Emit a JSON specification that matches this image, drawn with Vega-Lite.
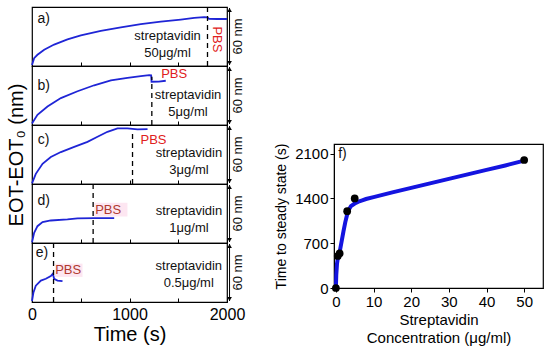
{
  "$schema": "https://vega.github.io/schema/vega-lite/v6.json",
  "background": "white",
  "padding": {"left": 5, "top": 5, "right": 5, "bottom": 5},
  "config": {
    "font": "Liberation Sans",
    "view": {"stroke": "black", "strokeWidth": 1.2},
    "axis": {"labelColor": "#000", "titleColor": "#000", "tickColor": "#000", "domainColor": "#000", "grid": false, "titleFontWeight": "normal", "labelFlush": false, "labelOverlap": false},
    "text": {"color": "#111", "font": "Liberation Sans"}
  },
  "datasets": {
    "traces": [
      {"panel": "a", "t": 0, "nm": 1}, {"panel": "a", "t": 22, "nm": 8}, {"panel": "a", "t": 56, "nm": 11.4}, {"panel": "a", "t": 125, "nm": 16.6}, {"panel": "a", "t": 227, "nm": 21.8}, {"panel": "a", "t": 364, "nm": 27}, {"panel": "a", "t": 501, "nm": 31.2}, {"panel": "a", "t": 706, "nm": 35.8}, {"panel": "a", "t": 911, "nm": 39.2}, {"panel": "a", "t": 1116, "nm": 42.6}, {"panel": "a", "t": 1321, "nm": 45.1}, {"panel": "a", "t": 1526, "nm": 47.2}, {"panel": "a", "t": 1664, "nm": 48.9}, {"panel": "a", "t": 1766, "nm": 49.6}, {"panel": "a", "t": 1800, "nm": 49.5}, {"panel": "a", "t": 1815, "nm": 47.9}, {"panel": "a", "t": 1900, "nm": 47.8}, {"panel": "a", "t": 2000, "nm": 47.8},
      {"panel": "b", "t": 0, "nm": 1.6}, {"panel": "b", "t": 56, "nm": 10.3}, {"panel": "b", "t": 159, "nm": 18.8}, {"panel": "b", "t": 296, "nm": 27.4}, {"panel": "b", "t": 467, "nm": 34.3}, {"panel": "b", "t": 638, "nm": 40.4}, {"panel": "b", "t": 809, "nm": 45.3}, {"panel": "b", "t": 979, "nm": 48}, {"panel": "b", "t": 1116, "nm": 49.7}, {"panel": "b", "t": 1202, "nm": 50.7}, {"panel": "b", "t": 1222, "nm": 50.6}, {"panel": "b", "t": 1226, "nm": 44}, {"panel": "b", "t": 1300, "nm": 44.2}, {"panel": "b", "t": 1372, "nm": 45},
      {"panel": "c", "t": 0, "nm": 0.6}, {"panel": "c", "t": 39, "nm": 10.3}, {"panel": "c", "t": 108, "nm": 20.6}, {"panel": "c", "t": 193, "nm": 27.4}, {"panel": "c", "t": 296, "nm": 32.5}, {"panel": "c", "t": 433, "nm": 37.7}, {"panel": "c", "t": 569, "nm": 42.8}, {"panel": "c", "t": 672, "nm": 48}, {"panel": "c", "t": 774, "nm": 53.1}, {"panel": "c", "t": 877, "nm": 56.6}, {"panel": "c", "t": 979, "nm": 56.6}, {"panel": "c", "t": 1082, "nm": 55.6}, {"panel": "c", "t": 1185, "nm": 55.9},
      {"panel": "d", "t": 0, "nm": 0.6}, {"panel": "d", "t": 22, "nm": 10.3}, {"panel": "d", "t": 56, "nm": 17.1}, {"panel": "d", "t": 108, "nm": 21.2}, {"panel": "d", "t": 193, "nm": 22.9}, {"panel": "d", "t": 364, "nm": 24}, {"panel": "d", "t": 467, "nm": 25}, {"panel": "d", "t": 638, "nm": 25.3}, {"panel": "d", "t": 843, "nm": 25.3},
      {"panel": "e", "t": 0, "nm": 1}, {"panel": "e", "t": 15, "nm": 9.7}, {"panel": "e", "t": 39, "nm": 16.6}, {"panel": "e", "t": 91, "nm": 21.8}, {"panel": "e", "t": 142, "nm": 23.6}, {"panel": "e", "t": 193, "nm": 26.4}, {"panel": "e", "t": 214, "nm": 28.8}, {"panel": "e", "t": 227, "nm": 23.6}, {"panel": "e", "t": 262, "nm": 21.8}, {"panel": "e", "t": 313, "nm": 21.2}
    ],
    "fit": [
      {"c": 0, "time": 0}, {"c": 0.1, "time": 200}, {"c": 0.3, "time": 380}, {"c": 0.5, "time": 460}, {"c": 1, "time": 560}, {"c": 1.5, "time": 720}, {"c": 2, "time": 880}, {"c": 2.5, "time": 1030}, {"c": 3, "time": 1150}, {"c": 3.5, "time": 1230}, {"c": 4, "time": 1280}, {"c": 5, "time": 1320}, {"c": 6, "time": 1350}, {"c": 7, "time": 1370}, {"c": 8, "time": 1390}, {"c": 10, "time": 1420}, {"c": 15, "time": 1495}, {"c": 20, "time": 1565}, {"c": 25, "time": 1635}, {"c": 30, "time": 1705}, {"c": 35, "time": 1775}, {"c": 40, "time": 1845}, {"c": 45, "time": 1915}, {"c": 50, "time": 1990}
    ],
    "pts": [
      {"c": 0, "time": 0}, {"c": 0.5, "time": 500}, {"c": 1, "time": 540}, {"c": 3, "time": 1200}, {"c": 5, "time": 1400}, {"c": 50, "time": 2000}
    ]
  },
  "bounds": "flush",
  "spacing": 302,
  "hconcat": [
    {
      "bounds": "flush",
      "spacing": 0,
      "vconcat": [
        {
          "width": 195, "height": 59,
          "layer": [
            {"data": {"name": "traces"}, "transform": [{"filter": "datum.panel == 'a'"}], "mark": {"type": "line", "color": "#1f25d6", "strokeWidth": 1.8},
             "encoding": {"x": {"field": "t", "type": "quantitative", "scale": {"domain": [0, 2000], "nice": false}, "axis": {"values": [0, 500, 1000, 1500, 2000], "labels": false, "tickSize": -4, "domain": false, "title": null}},
                          "y": {"field": "nm", "type": "quantitative", "scale": {"domain": [0, 60], "nice": false}, "axis": null}}},
            {"data": {"values": [{}]}, "mark": {"type": "rule", "strokeDash": [5, 4], "color": "black", "strokeWidth": 1.3}, "encoding": {"x": {"datum": 1800}, "y": {"datum": 0, "axis": null}, "y2": {"datum": 60}}},
            {"data": {"values": [{}]}, "mark": {"type": "text", "fontSize": 14, "align": "left", "baseline": "middle"}, "encoding": {"x": {"datum": 56}, "y": {"datum": 47.8, "axis": null}, "text": {"value": "a)"}}},
            {"data": {"values": [{}]}, "mark": {"type": "text", "fontSize": 13, "lineHeight": 17, "align": "center", "baseline": "middle"}, "encoding": {"x": {"datum": 1390}, "y": {"datum": 30.6, "axis": null}, "text": {"value": ["streptavidin", "50μg/ml"]}}},
            {"data": {"values": [{}]}, "mark": {"type": "text", "fontSize": 13, "align": "center", "baseline": "middle", "angle": 90, "color": "#e02020"}, "encoding": {"x": {"datum": 1902}, "y": {"datum": 27, "axis": null}, "text": {"value": "PBS"}}},
            {"data": {"values": [{}]}, "mark": {"type": "text", "fontSize": 13, "align": "center", "baseline": "middle", "angle": 270}, "encoding": {"x": {"datum": 2110}, "y": {"datum": 30, "axis": null}, "text": {"value": "60 nm"}}},
            {"data": {"values": [{}]}, "mark": {"type": "rule", "color": "black", "strokeWidth": 1}, "encoding": {"x": {"datum": 2026}, "y": {"datum": 1, "axis": null}, "y2": {"datum": 59}}},
            {"data": {"values": [{}]}, "mark": {"type": "point", "shape": "triangle-up", "filled": true, "color": "black", "size": 22, "opacity": 1}, "encoding": {"x": {"datum": 2026}, "y": {"datum": 57, "axis": null}}},
            {"data": {"values": [{}]}, "mark": {"type": "point", "shape": "triangle-down", "filled": true, "color": "black", "size": 22, "opacity": 1}, "encoding": {"x": {"datum": 2026}, "y": {"datum": 3, "axis": null}}}
          ]
        },
        {
          "width": 195, "height": 59,
          "layer": [
            {"data": {"name": "traces"}, "transform": [{"filter": "datum.panel == 'b'"}], "mark": {"type": "line", "color": "#1f25d6", "strokeWidth": 1.8},
             "encoding": {"x": {"field": "t", "type": "quantitative", "scale": {"domain": [0, 2000], "nice": false}, "axis": {"values": [0, 500, 1000, 1500, 2000], "labels": false, "tickSize": -4, "domain": false, "title": null}},
                          "y": {"field": "nm", "type": "quantitative", "scale": {"domain": [0, 60], "nice": false}, "axis": null}}},
            {"data": {"values": [{}]}, "mark": {"type": "rule", "strokeDash": [5, 4], "color": "black", "strokeWidth": 1.3}, "encoding": {"x": {"datum": 1229}, "y": {"datum": 0, "axis": null}, "y2": {"datum": 49}}},
            {"data": {"values": [{}]}, "mark": {"type": "text", "fontSize": 14, "align": "left", "baseline": "middle"}, "encoding": {"x": {"datum": 56}, "y": {"datum": 39.4, "axis": null}, "text": {"value": "b)"}}},
            {"data": {"values": [{}]}, "mark": {"type": "text", "fontSize": 13, "lineHeight": 17, "align": "center", "baseline": "middle"}, "encoding": {"x": {"datum": 1600}, "y": {"datum": 30.9, "axis": null}, "text": {"value": ["streptavidin", "5μg/ml"]}}},
            {"data": {"values": [{}]}, "mark": {"type": "text", "fontSize": 13, "align": "center", "baseline": "middle", "color": "#e02020"}, "encoding": {"x": {"datum": 1458}, "y": {"datum": 51.5, "axis": null}, "text": {"value": "PBS"}}},
            {"data": {"values": [{}]}, "mark": {"type": "text", "fontSize": 13, "align": "center", "baseline": "middle", "angle": 270}, "encoding": {"x": {"datum": 2110}, "y": {"datum": 30, "axis": null}, "text": {"value": "60 nm"}}},
            {"data": {"values": [{}]}, "mark": {"type": "rule", "color": "black", "strokeWidth": 1}, "encoding": {"x": {"datum": 2026}, "y": {"datum": 1, "axis": null}, "y2": {"datum": 59}}},
            {"data": {"values": [{}]}, "mark": {"type": "point", "shape": "triangle-up", "filled": true, "color": "black", "size": 22, "opacity": 1}, "encoding": {"x": {"datum": 2026}, "y": {"datum": 57, "axis": null}}},
            {"data": {"values": [{}]}, "mark": {"type": "point", "shape": "triangle-down", "filled": true, "color": "black", "size": 22, "opacity": 1}, "encoding": {"x": {"datum": 2026}, "y": {"datum": 3, "axis": null}}}
          ]
        },
        {
          "width": 195, "height": 59,
          "layer": [
            {"data": {"name": "traces"}, "transform": [{"filter": "datum.panel == 'c'"}], "mark": {"type": "line", "color": "#1f25d6", "strokeWidth": 1.8},
             "encoding": {"x": {"field": "t", "type": "quantitative", "scale": {"domain": [0, 2000], "nice": false}, "axis": {"values": [0, 500, 1000, 1500, 2000], "labels": false, "tickSize": -4, "domain": false, "title": null}},
                          "y": {"field": "nm", "type": "quantitative", "scale": {"domain": [0, 60], "nice": false}, "axis": {"title": "EOT-EOT₀ (nm)", "labels": false, "ticks": false, "domain": false, "titleFontSize": 20, "titlePadding": 5.5}}}},
            {"data": {"values": [{}]}, "mark": {"type": "rule", "strokeDash": [5, 4], "color": "black", "strokeWidth": 1.3}, "encoding": {"x": {"datum": 1031}, "y": {"datum": 0}, "y2": {"datum": 53}}},
            {"data": {"values": [{}]}, "mark": {"type": "text", "fontSize": 14, "align": "left", "baseline": "middle"}, "encoding": {"x": {"datum": 60}, "y": {"datum": 44.6}, "text": {"value": "c)"}}},
            {"data": {"values": [{}]}, "mark": {"type": "text", "fontSize": 13, "lineHeight": 17, "align": "center", "baseline": "middle"}, "encoding": {"x": {"datum": 1610}, "y": {"datum": 31.9}, "text": {"value": ["streptavidin", "3μg/ml"]}}},
            {"data": {"values": [{}]}, "mark": {"type": "text", "fontSize": 13, "align": "center", "baseline": "middle", "color": "#e02020"}, "encoding": {"x": {"datum": 1246}, "y": {"datum": 44.6}, "text": {"value": "PBS"}}},
            {"data": {"values": [{}]}, "mark": {"type": "text", "fontSize": 13, "align": "center", "baseline": "middle", "angle": 270}, "encoding": {"x": {"datum": 2110}, "y": {"datum": 30}, "text": {"value": "60 nm"}}},
            {"data": {"values": [{}]}, "mark": {"type": "rule", "color": "black", "strokeWidth": 1}, "encoding": {"x": {"datum": 2026}, "y": {"datum": 1}, "y2": {"datum": 59}}},
            {"data": {"values": [{}]}, "mark": {"type": "point", "shape": "triangle-up", "filled": true, "color": "black", "size": 22, "opacity": 1}, "encoding": {"x": {"datum": 2026}, "y": {"datum": 57}}},
            {"data": {"values": [{}]}, "mark": {"type": "point", "shape": "triangle-down", "filled": true, "color": "black", "size": 22, "opacity": 1}, "encoding": {"x": {"datum": 2026}, "y": {"datum": 3}}}
          ]
        },
        {
          "width": 195, "height": 59,
          "layer": [
            {"data": {"values": [{}]}, "mark": {"type": "rect", "color": "#fde6f1"}, "encoding": {"x": {"datum": 638}, "x2": {"datum": 979}, "y": {"datum": 27, "axis": null}, "y2": {"datum": 41}}},
            {"data": {"name": "traces"}, "transform": [{"filter": "datum.panel == 'd'"}], "mark": {"type": "line", "color": "#1f25d6", "strokeWidth": 1.8},
             "encoding": {"x": {"field": "t", "type": "quantitative", "scale": {"domain": [0, 2000], "nice": false}, "axis": {"values": [0, 500, 1000, 1500, 2000], "labels": false, "tickSize": -4, "domain": false, "title": null}},
                          "y": {"field": "nm", "type": "quantitative", "scale": {"domain": [0, 60], "nice": false}, "axis": null}}},
            {"data": {"values": [{}]}, "mark": {"type": "rule", "strokeDash": [5, 4], "color": "black", "strokeWidth": 1.3}, "encoding": {"x": {"datum": 627}, "y": {"datum": 0, "axis": null}, "y2": {"datum": 60}}},
            {"data": {"values": [{}]}, "mark": {"type": "text", "fontSize": 14, "align": "left", "baseline": "middle"}, "encoding": {"x": {"datum": 56}, "y": {"datum": 42.8, "axis": null}, "text": {"value": "d)"}}},
            {"data": {"values": [{}]}, "mark": {"type": "text", "fontSize": 13, "lineHeight": 17, "align": "center", "baseline": "middle"}, "encoding": {"x": {"datum": 1610}, "y": {"datum": 32.5, "axis": null}, "text": {"value": ["streptavidin", "1μg/ml"]}}},
            {"data": {"values": [{}]}, "mark": {"type": "text", "fontSize": 13, "align": "center", "baseline": "middle", "color": "#b03a2e"}, "encoding": {"x": {"datum": 781}, "y": {"datum": 33.6, "axis": null}, "text": {"value": "PBS"}}},
            {"data": {"values": [{}]}, "mark": {"type": "text", "fontSize": 13, "align": "center", "baseline": "middle", "angle": 270}, "encoding": {"x": {"datum": 2110}, "y": {"datum": 30, "axis": null}, "text": {"value": "60 nm"}}},
            {"data": {"values": [{}]}, "mark": {"type": "rule", "color": "black", "strokeWidth": 1}, "encoding": {"x": {"datum": 2026}, "y": {"datum": 1, "axis": null}, "y2": {"datum": 59}}},
            {"data": {"values": [{}]}, "mark": {"type": "point", "shape": "triangle-up", "filled": true, "color": "black", "size": 22, "opacity": 1}, "encoding": {"x": {"datum": 2026}, "y": {"datum": 57, "axis": null}}},
            {"data": {"values": [{}]}, "mark": {"type": "point", "shape": "triangle-down", "filled": true, "color": "black", "size": 22, "opacity": 1}, "encoding": {"x": {"datum": 2026}, "y": {"datum": 3, "axis": null}}}
          ]
        },
        {
          "width": 195, "height": 59,
          "layer": [
            {"data": {"values": [{}]}, "mark": {"type": "rect", "color": "#fde6f1"}, "encoding": {"x": {"datum": 234}, "x2": {"datum": 518}, "y": {"datum": 25.5, "axis": null}, "y2": {"datum": 39}}},
            {"data": {"name": "traces"}, "transform": [{"filter": "datum.panel == 'e'"}], "mark": {"type": "line", "color": "#1f25d6", "strokeWidth": 1.8},
             "encoding": {"x": {"field": "t", "type": "quantitative", "scale": {"domain": [0, 2000], "nice": false}, "axis": {"values": [0, 500, 1000, 1500, 2000], "tickSize": -4, "domain": false, "title": "Time (s)", "titleFontSize": 20, "labelFontSize": 16, "format": "d", "labelExpr": "datum.value % 1000 == 0 ? datum.label : ''", "labelPadding": 8, "titlePadding": 2}},
                          "y": {"field": "nm", "type": "quantitative", "scale": {"domain": [0, 60], "nice": false}, "axis": null}}},
            {"data": {"values": [{}]}, "mark": {"type": "rule", "strokeDash": [5, 4], "color": "black", "strokeWidth": 1.3}, "encoding": {"x": {"datum": 221}, "y": {"datum": 0, "axis": null}, "y2": {"datum": 60}}},
            {"data": {"values": [{}]}, "mark": {"type": "text", "fontSize": 14, "align": "left", "baseline": "middle"}, "encoding": {"x": {"datum": 39}, "y": {"datum": 49.6, "axis": null}, "text": {"value": "e)"}}},
            {"data": {"values": [{}]}, "mark": {"type": "text", "fontSize": 13, "lineHeight": 17, "align": "center", "baseline": "middle"}, "encoding": {"x": {"datum": 1608}, "y": {"datum": 36.8, "axis": null}, "text": {"value": ["streptavidin", "0.5μg/ml"]}}},
            {"data": {"values": [{}]}, "mark": {"type": "text", "fontSize": 13, "align": "center", "baseline": "middle", "color": "#b03a2e"}, "encoding": {"x": {"datum": 371}, "y": {"datum": 32.2, "axis": null}, "text": {"value": "PBS"}}},
            {"data": {"values": [{}]}, "mark": {"type": "text", "fontSize": 13, "align": "center", "baseline": "middle", "angle": 270}, "encoding": {"x": {"datum": 2110}, "y": {"datum": 30, "axis": null}, "text": {"value": "60 nm"}}},
            {"data": {"values": [{}]}, "mark": {"type": "rule", "color": "black", "strokeWidth": 1}, "encoding": {"x": {"datum": 2026}, "y": {"datum": 1, "axis": null}, "y2": {"datum": 59}}},
            {"data": {"values": [{}]}, "mark": {"type": "point", "shape": "triangle-up", "filled": true, "color": "black", "size": 22, "opacity": 1}, "encoding": {"x": {"datum": 2026}, "y": {"datum": 57, "axis": null}}},
            {"data": {"values": [{}]}, "mark": {"type": "point", "shape": "triangle-down", "filled": true, "color": "black", "size": 22, "opacity": 1}, "encoding": {"x": {"datum": 2026}, "y": {"datum": 3, "axis": null}}}
          ]
        }
      ]
    },
    {
      "bounds": "flush",
      "spacing": 0,
      "vconcat": [
        {"width": 209, "height": 137, "data": {"values": [{}]}, "mark": {"type": "point", "opacity": 0}, "view": {"stroke": null}},
        {
          "width": 209, "height": 144,
          "layer": [
            {"data": {"name": "fit"}, "mark": {"type": "line", "color": "#1414e0", "strokeWidth": 4},
             "encoding": {"x": {"field": "c", "type": "quantitative", "scale": {"domain": [-0.5, 55], "nice": false, "zero": false},
                                "axis": {"values": [0, 10, 20, 30, 40, 50], "format": "d", "labelFontSize": 15, "tickSize": 4, "labelPadding": 2, "title": ["Streptavidin", "Concentration (μg/ml)"], "titleFontSize": 15, "titleLineHeight": 18, "titlePadding": 3}},
                          "y": {"field": "time", "type": "quantitative", "scale": {"domain": [0, 2250], "nice": false},
                                "axis": {"values": [0, 700, 1400, 2100], "format": "d", "labelFontSize": 15, "tickSize": 4, "labelPadding": 2, "title": "Time to steady state  (s)", "titleFontSize": 14, "titlePadding": 6}}}},
            {"data": {"name": "pts"}, "mark": {"type": "point", "filled": true, "color": "black", "size": 60, "opacity": 1},
             "encoding": {"x": {"field": "c", "type": "quantitative"}, "y": {"field": "time", "type": "quantitative"}}},
            {"data": {"values": [{}]}, "mark": {"type": "text", "fontSize": 14, "align": "left", "baseline": "middle"}, "encoding": {"x": {"datum": 0.6}, "y": {"datum": 2100}, "text": {"value": "f)"}}}
          ]
        }
      ]
    }
  ]
}
